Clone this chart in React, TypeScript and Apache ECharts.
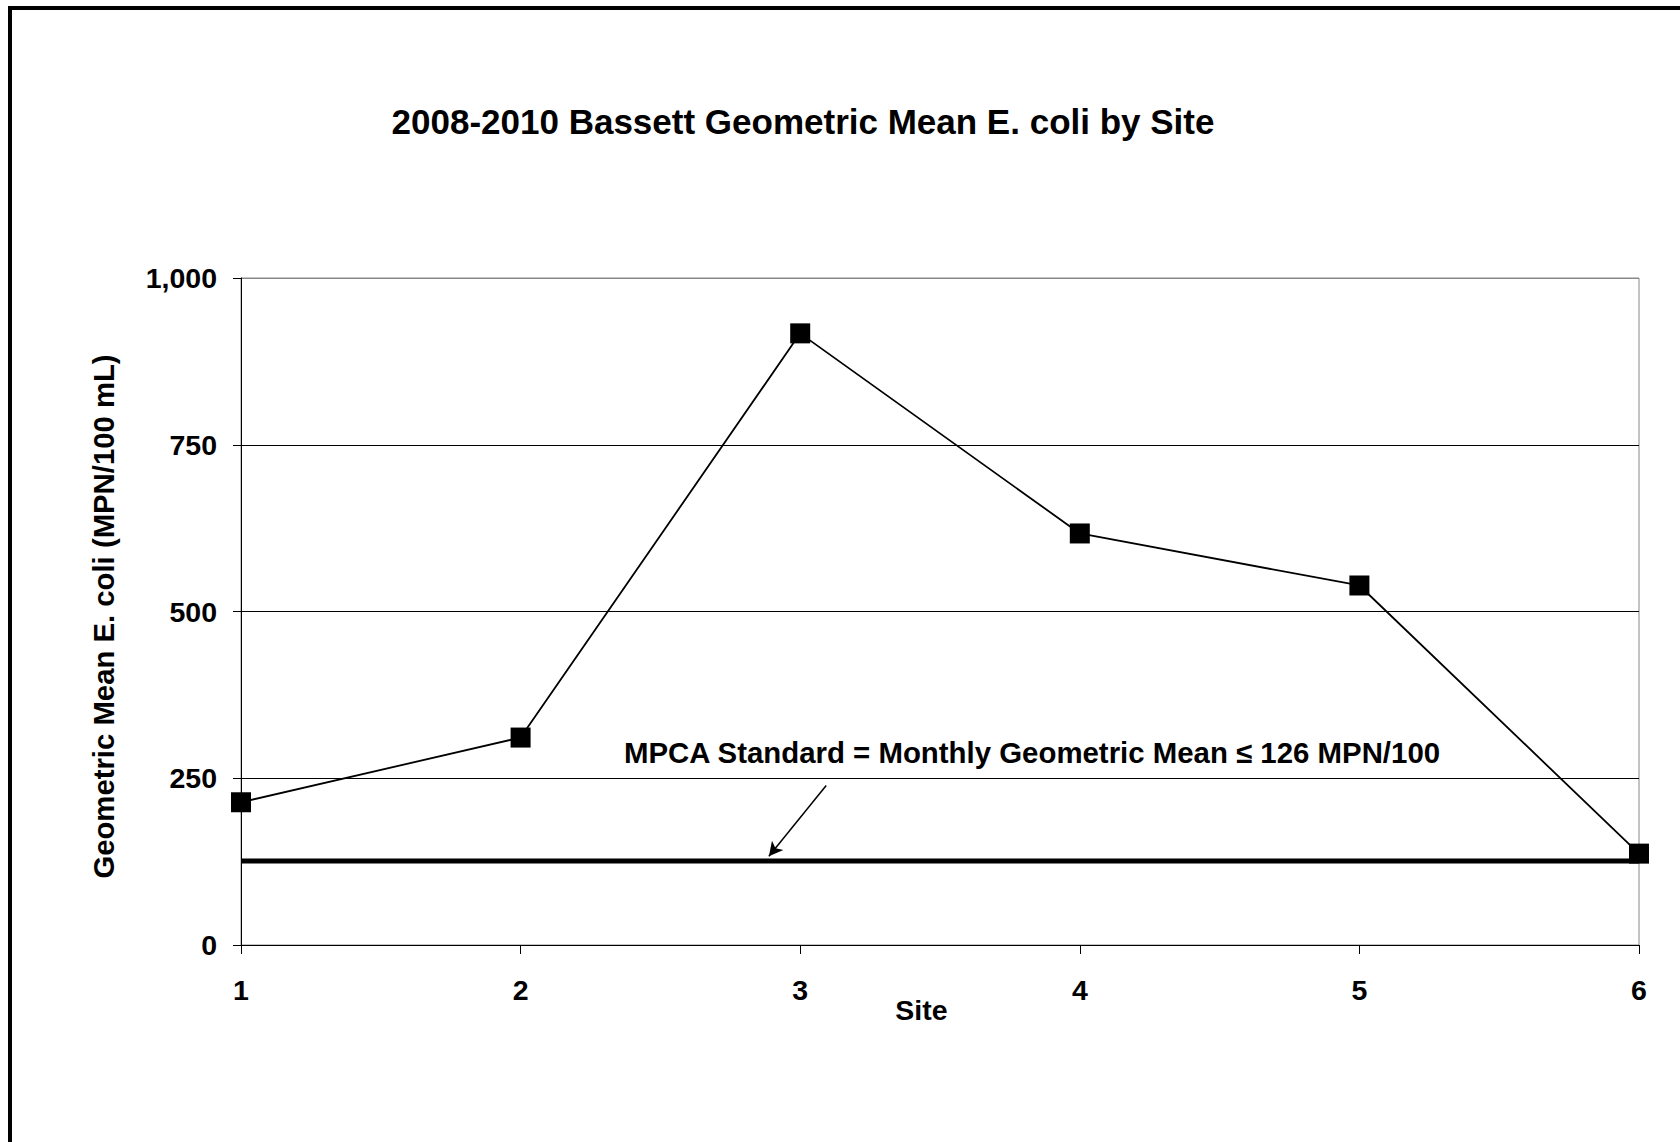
import React, { useEffect, useRef } from "react";
import * as echarts from "echarts";

const sites = [1, 2, 3, 4, 5, 6];
const geoMean = [214, 311, 917, 617, 539, 137];
const standardValue = [126, 126, 126, 126, 126, 126];
const yTicks = [0, 250, 500, 750, 1000];
const arrowFrom = [3.093, 239];
const arrowTo = [2.888, 133];

const titleText = "2008-2010 Bassett Geometric Mean E. coli by Site";
const yName = "Geometric Mean E. coli (MPN/100 mL)";
const xName = "Site";
const noteText = "MPCA Standard = Monthly Geometric Mean \u2264 126 MPN/100";

const FONT = '"Liberation Sans", Arial, Helvetica, sans-serif';

export default function App() {
  const ref = useRef<HTMLDivElement>(null);
  useEffect(() => {
    if (!ref.current) return;
    const chart = echarts.init(ref.current, null, { renderer: "svg" });
    const option: any = {
      animation: false,
      backgroundColor: "#fff",
      textStyle: { fontFamily: FONT },
      grid: {
        left: 241,
        right: 41,
        top: 278,
        bottom: 197,
        show: true,
        borderColor: "#888",
        borderWidth: 1,
        backgroundColor: "transparent",
      },
      xAxis: {
        type: "value",
        min: sites[0],
        max: sites[sites.length - 1],
        interval: 1,
        name: xName,
        nameLocation: "middle",
        nameGap: 50,
        nameMoveOverlap: false,
        nameTextStyle: {
          fontFamily: FONT,
          fontWeight: "bold",
          fontSize: 28.5,
          color: "#000",
          padding: [0, 37, 0, 0],
        },
        axisLine: { show: true, lineStyle: { color: "#000", width: 1 } },
        axisTick: { show: true, length: 9, lineStyle: { color: "#000", width: 1 } },
        axisLabel: {
          margin: 30,
          fontFamily: FONT,
          fontWeight: "bold",
          fontSize: 28.5,
          color: "#000",
        },
        splitLine: { show: false },
      },
      yAxis: {
        type: "value",
        min: yTicks[0],
        max: yTicks[yTicks.length - 1],
        interval: 250,
        name: yName,
        nameLocation: "middle",
        nameGap: 123,
        nameMoveOverlap: false,
        nameRotate: 90,
        nameTextStyle: {
          fontFamily: FONT,
          fontWeight: "bold",
          fontSize: 29.3,
          color: "#000",
          padding: [0, 10, 0, 0],
        },
        axisLine: { show: true, lineStyle: { color: "#000", width: 1 } },
        axisTick: { show: true, length: 8, lineStyle: { color: "#000", width: 1 } },
        axisLabel: {
          margin: 24,
          fontFamily: FONT,
          fontWeight: "bold",
          fontSize: 28.5,
          color: "#000",
          formatter: (v: number) => v.toLocaleString("en-US"),
        },
        splitLine: {
          show: true,
          lineStyle: { color: ["#000", "#000", "#000", "#000", "#888"], width: 1 },
        },
      },
      series: [
        {
          type: "line",
          name: "Standard",
          data: sites.map((s, i) => [s, standardValue[i]]),
          symbol: "none",
          lineStyle: { color: "#000", width: 5 },
          itemStyle: { color: "#000" },
          z: 2,
          silent: true,
          markLine: {
            silent: true,
            symbol: ["none", "arrow"],
            symbolSize: [11, 14],
            label: { show: false },
            lineStyle: { color: "#000", width: 1.5, type: "solid" },
            data: [[{ coord: arrowFrom }, { coord: arrowTo }]],
          },
        },
        {
          type: "line",
          name: "Geometric Mean",
          data: sites.map((s, i) => [s, geoMean[i]]),
          symbol: "rect",
          symbolSize: 20,
          lineStyle: { color: "#000", width: 1.8 },
          itemStyle: { color: "#000" },
          z: 3,
        },
      ],
      graphic: [
        {
          type: "rect",
          shape: { x: 10, y: 8, width: 1720, height: 1220 },
          style: { fill: "none", stroke: "#000", lineWidth: 4 },
          silent: true,
        },
        {
          type: "text",
          x: 803,
          y: 121,
          style: {
            text: titleText,
            fill: "#000",
            font: `bold 35px ${FONT}`,
            textAlign: "center",
            textVerticalAlign: "middle",
          },
        },
        {
          type: "text",
          x: 1032,
          y: 752,
          style: {
            text: noteText,
            fill: "#000",
            font: `bold 29.4px ${FONT}`,
            textAlign: "center",
            textVerticalAlign: "middle",
          },
        },
      ],
    };
    chart.setOption(option);
    return () => chart.dispose();
  }, []);
  return (
    <div
      ref={ref}
      style={{ position: "fixed", left: 0, top: 0, width: 1680, height: 1142, background: "#fff" }}
    />
  );
}
